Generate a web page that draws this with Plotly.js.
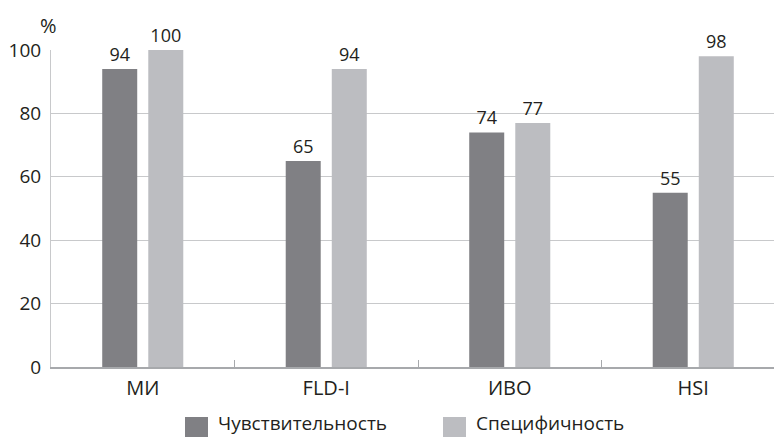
<!DOCTYPE html>
<html>
<head>
<meta charset="utf-8">
<script src="https://cdn.plot.ly/plotly-3.0.1.min.js"></script>
<style>
  html, body { margin: 0; padding: 0; overflow: hidden; background: #fff; }
  #chart { width: 790px; height: 437px; }
</style>
</head>
<body>
<div id="chart"></div>
<script>
// Diagnostic methods and their sensitivity / specificity, %
const categories = ['МИ', 'FLD-I', 'ИВО', 'HSI'];
const sensitivity = [94, 65, 74, 55];
const specificity = [100, 94, 77, 98];
const seriesNames = ['Чувствительность', 'Специфичность'];
const yTicks = [0, 20, 40, 60, 80, 100];

const colors = ['#808084', '#bcbdc1'];
const fontFamily = 'Open Sans, Noto Sans, sans-serif';
const textColor = '#231f20';

const bar = (y, i) => ({
  type: 'bar',
  x: categories,
  y: y,
  name: seriesNames[i],
  marker: { color: colors[i], line: { width: 0 } },
  text: y.map(String),
  textposition: 'outside',
  textfont: { family: fontFamily, size: 18, color: textColor },
  cliponaxis: false,
  showlegend: false,
  hoverinfo: 'x+y+name'
});

const data = [bar(sensitivity, 0), bar(specificity, 1)];

// Legend drawn as large swatches below the plot
const W = 790, H = 437, mL = 51, mR = 5, mT = 50, mB = 70;
const plotW = W - mL - mR;
const plotH = H - mT - mB;
const px = x => (x - mL) / plotW;          // page x -> paper x
const py = y => (H - mB - y) / plotH;      // page y -> paper y

const legendX = [185, 443];
const legendShapes = [];
const legendNotes = [];
seriesNames.forEach((name, i) => {
  legendShapes.push({
    type: 'rect', xref: 'paper', yref: 'paper',
    x0: px(legendX[i]), x1: px(legendX[i] + 23), y0: py(417), y1: py(438),
    fillcolor: colors[i], line: { width: 0 }
  });
  legendNotes.push({
    xref: 'paper', yref: 'paper', x: px(legendX[i] + 31), y: py(423),
    xanchor: 'left', yanchor: 'middle', showarrow: false,
    text: name, font: { family: fontFamily, size: 19, color: textColor }
  });
});

const layout = {
  width: W,
  height: H,
  margin: { l: mL, r: mR, t: mT, b: mB },
  paper_bgcolor: '#ffffff',
  plot_bgcolor: '#ffffff',
  font: { family: fontFamily, size: 18, color: textColor },
  bargap: 0.498,
  bargroupgap: 0.24,
  barmode: 'group',
  showlegend: false,
  xaxis: {
    type: 'category',
    tickson: 'boundaries',
    ticks: 'inside',
    ticklen: 7,
    tickcolor: '#a7a9ac',
    showline: true,
    linecolor: '#a7a9ac',
    linewidth: 1.5,
    showgrid: false,
    ticklabelstandoff: 2,
    tickfont: { family: fontFamily, size: 20, color: textColor },
    fixedrange: true
  },
  yaxis: {
    range: [0, 100],
    tickvals: yTicks,
    ticktext: yTicks.map(String),
    showgrid: true,
    gridcolor: '#c8c9cb',
    gridwidth: 1,
    zeroline: false,
    showline: true,
    linecolor: '#c8c9cb',
    linewidth: 1,
    ticks: '',
    ticklabelstandoff: 5,
    tickfont: { family: fontFamily, size: 19, color: textColor },
    fixedrange: true
  },
  shapes: legendShapes,
  annotations: [
    {
      xref: 'paper', yref: 'paper', x: px(48), y: py(25),
      xanchor: 'center', yanchor: 'middle', showarrow: false,
      text: '%', font: { family: fontFamily, size: 20, color: textColor }
    }
  ].concat(legendNotes)
};

Plotly.newPlot('chart', data, layout, { displayModeBar: false, staticPlot: true });
</script>
</body>
</html>
